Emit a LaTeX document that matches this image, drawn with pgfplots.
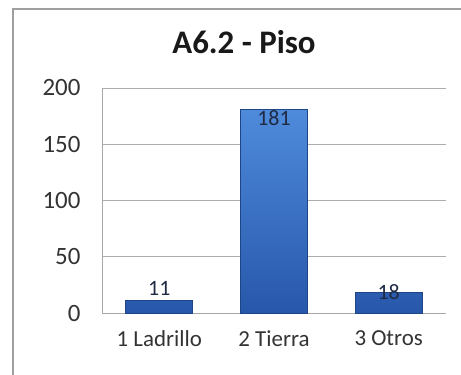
\documentclass[border=0pt]{standalone}
\usepackage{pgfplots}
\pgfplotsset{compat=1.18}
\usepackage{fontspec}
\setmainfont{Carlito}
\definecolor{bartop}{HTML}{4F8BDB}
\definecolor{barbot}{HTML}{2757AA}
\definecolor{barline}{HTML}{1E4585}
\definecolor{labtxt}{HTML}{1F2A44}
\begin{document}
\begin{tikzpicture}[x=1bp,y=1bp]
\useasboundingbox (-102,-61) rectangle (359,313);
\clip (-102,-61) rectangle (359,313);
\draw[gray!75, line width=1.5bp] (-89,304) rectangle (380,-80);
\node[font=\bfseries\fontsize{33}{33}\selectfont, text=black!90] at (142,271) {A6.2 - Piso};
\begin{axis}[
    at={(0,0)}, anchor=south west,
    scale only axis, width=344bp, height=225bp,
    xmin=-0.5, xmax=2.5, ymin=0, ymax=200,
    xtick={0,1,2},
    xticklabels={1 Ladrillo, 2 Tierra, 3 Otros},
    ytick={0,50,100,150,200},
    axis lines=left,
    axis line style={-, gray!70, line width=1bp},
    ymajorgrids=true,
    grid style={gray!65, line width=1bp},
    major tick length=0pt,
    /pgf/number format/assume math mode=true,
    yticklabel style={font=\fontsize{25}{25}\selectfont, text=black!80, xshift=-18bp},
    xticklabel style={font=\fontsize{23}{23}\selectfont, text=black!80, yshift=-14bp},
    clip=false,
]
\addplot[ybar, bar width=67bp, draw=barline, line width=0.8bp,
    shade, shading=axis, top color=bartop, bottom color=barbot]
    coordinates {(0,11) (1,181) (2,18)};
\addplot[draw=none, mark=none, nodes near coords, point meta=explicit symbolic,
    every node near coord/.style={anchor=center, font=\fontsize{22}{22}\selectfont, text=labtxt}]
    coordinates {(0,22)[11] (1,173)[181] (2,19)[18]};
\end{axis}
\end{tikzpicture}
\end{document}
